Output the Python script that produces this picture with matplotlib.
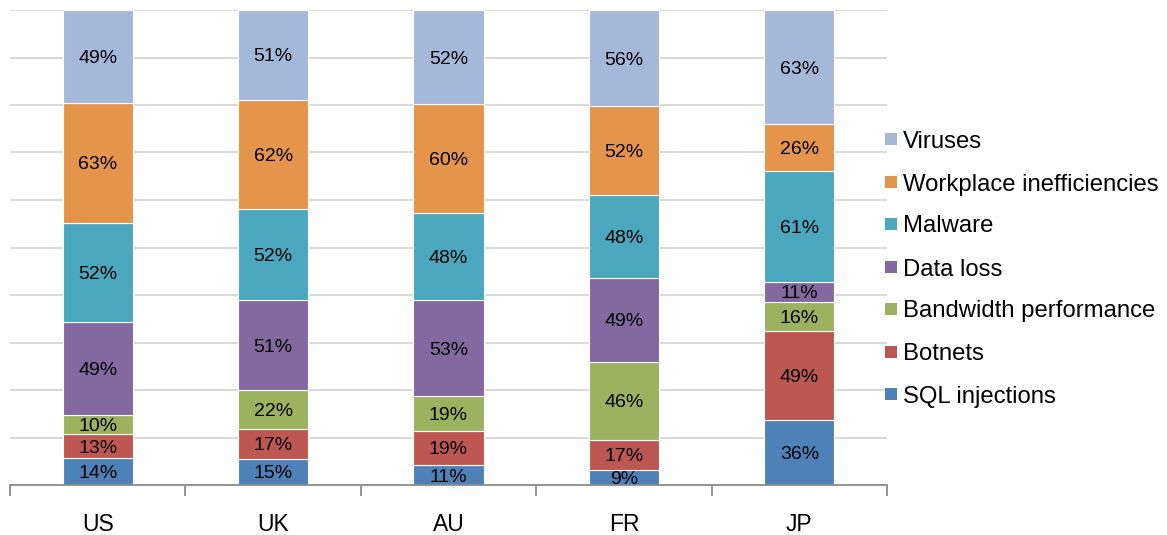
import matplotlib
matplotlib.use("Agg")
import matplotlib.pyplot as plt
import numpy as np
from matplotlib.patches import Rectangle
from matplotlib.ticker import FixedLocator

plt.rcParams["font.family"] = ["Liberation Sans", "DejaVu Sans"]

countries = ["US", "UK", "AU", "FR", "JP"]

# Stacked from bottom to top
series_names = [
    "SQL injections",
    "Botnets",
    "Bandwidth performance",
    "Data loss",
    "Malware",
    "Workplace inefficiencies",
    "Viruses",
]
sql_injections = [14, 15, 11, 9, 36]
botnets = [13, 17, 19, 17, 49]
bandwidth = [10, 22, 19, 46, 16]
data_loss = [49, 51, 53, 49, 11]
malware = [52, 52, 48, 48, 61]
workplace = [63, 62, 60, 52, 26]
viruses = [49, 51, 52, 56, 63]

colors = ["#4F81B9", "#BD5752", "#9BB35E", "#8468A0", "#4BA7BE", "#E4954B", "#A5B8DA"]

values = np.array([sql_injections, botnets, bandwidth, data_loss,
                   malware, workplace, viruses], dtype=float)
totals = values.sum(axis=0)
shares = values / totals

W, H = 1167, 535
fig = plt.figure(figsize=(W / 100, H / 100), dpi=100)
ax = fig.add_axes([10 / W, 1 - 485 / H, (887 - 10) / W, (485 - 10) / H])

x = np.arange(len(countries))
bottom = np.zeros(len(countries))
for name, raw, share, col in zip(series_names, values, shares, colors):
    ax.bar(x, share, width=0.4, bottom=bottom, color=col,
           edgecolor="white", linewidth=0.8, zorder=3)
    for xi, b, s, v in zip(x, bottom, share, raw):
        ax.text(xi, b + s / 2, f"{int(v)}%", ha="center",
                va="center_baseline", fontsize=14, color="black", zorder=4)
    bottom += share

ax.set_xlim(-0.5, len(countries) - 0.5)
ax.set_ylim(0, 1)
ax.set_yticks(np.arange(0, 1.01, 0.1))
ax.yaxis.grid(True, color="#D9D9D9", linewidth=1.4, zorder=0)
ax.tick_params(axis="y", left=False, labelleft=False)

ax.set_xticks(x)
ax.set_xticklabels(countries, fontsize=16.5)
ax.tick_params(axis="x", which="major", length=0, pad=20)
ax.xaxis.set_minor_locator(FixedLocator(np.arange(-0.5, len(countries), 1.0)))
ax.tick_params(axis="x", which="minor", length=8, width=1.3, color="#8C8C8C")

for side in ["top", "right", "left"]:
    ax.spines[side].set_visible(False)
ax.spines["bottom"].set_color("#8C8C8C")
ax.spines["bottom"].set_linewidth(1.3)
ax.spines["bottom"].set_zorder(5)

# Legend, listed top-down in reverse stacking order
row_y = [139, 182, 224, 267, 309, 352, 394]
for i, (name, col) in enumerate(zip(series_names[::-1], colors[::-1])):
    yc = row_y[i]
    fig.patches.append(Rectangle((885 / W, 1 - (yc + 6) / H), 12 / W, 12 / H,
                                 transform=fig.transFigure, facecolor=col,
                                 edgecolor="none"))
    fig.text(903 / W, 1 - yc / H, name, fontsize=17.2, ha="left",
             va="center_baseline", color="black")

fig.savefig("out.png", dpi=100)
